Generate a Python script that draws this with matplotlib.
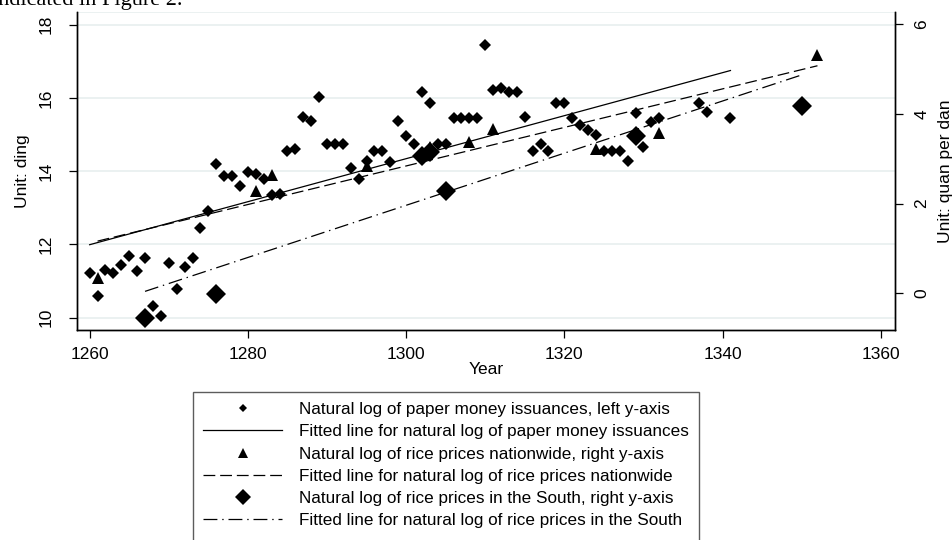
import matplotlib
matplotlib.use("Agg")
import matplotlib.pyplot as plt
from matplotlib.lines import Line2D
import numpy as np

plt.rcParams['font.family'] = ['Liberation Sans', 'DejaVu Sans']
plt.rcParams['lines.scale_dashes'] = False

# paper money issuances (natural log, left axis)
money_years = [1260, 1261, 1262, 1263, 1264, 1265, 1266, 1267, 1268, 1269,
               1270, 1271, 1272, 1273, 1274, 1275, 1276, 1277, 1278, 1279,
               1280, 1281, 1282, 1283, 1284, 1285, 1286, 1287, 1288, 1289,
               1290, 1291, 1292, 1293, 1294, 1295, 1296, 1297, 1298, 1299,
               1300, 1301, 1302, 1303, 1304, 1305, 1306, 1307, 1308, 1309,
               1310, 1311, 1312, 1313, 1314, 1315, 1316, 1317, 1318, 1319,
               1320, 1321, 1322, 1323, 1324, 1325, 1326, 1327, 1328, 1329,
               1330, 1331, 1332, 1337, 1338, 1341]
money_vals = [11.23, 10.59, 11.30, 11.23, 11.43, 11.67, 11.26, 11.64, 10.32, 10.05,
              11.50, 10.79, 11.39, 11.64, 12.44, 12.92, 14.20, 13.86, 13.86, 13.60,
              13.97, 13.93, 13.79, 13.35, 13.38, 14.54, 14.60, 15.49, 15.38, 16.03,
              14.75, 14.75, 14.75, 14.10, 13.79, 14.27, 14.54, 14.54, 14.24, 15.36,
              14.95, 14.75, 16.17, 15.86, 14.75, 14.75, 15.45, 15.45, 15.45, 15.45,
              17.45, 16.22, 16.27, 16.16, 16.16, 15.49, 14.56, 14.75, 14.56, 15.86,
              15.86, 15.46, 15.26, 15.12, 14.98, 14.56, 14.56, 14.56, 14.29, 15.60,
              14.66, 15.34, 15.45, 15.86, 15.62, 15.45]

# rice prices nationwide (natural log, right axis)
nation_years = [1261, 1281, 1283, 1295, 1303, 1308, 1311, 1324, 1332, 1352]
nation_vals = [0.33, 2.29, 2.64, 2.84, 3.27, 3.38, 3.67, 3.21, 3.58, 5.31]

# rice prices in the South (natural log, right axis)
south_years = [1267, 1276, 1302, 1303, 1305, 1329, 1350]
south_vals = [-0.56, -0.02, 3.05, 3.15, 2.29, 3.50, 4.17]

fig = plt.figure(figsize=(9.52, 5.4), dpi=100)
ax1 = fig.add_axes([77 / 952, 1 - 330 / 540, (895 - 77) / 952, (330 - 12) / 540])
ax2 = ax1.twinx()

# fitted lines (OLS on each series)
def fit(xs, ys):
    b, a = np.polyfit(xs, ys, 1)
    xx = np.array([min(xs), max(xs)])
    return xx, a + b * xx

fx, fy = fit(money_years, money_vals)
ax1.plot(fx, fy, color='black', lw=0.9)
nx, ny = fit(nation_years, nation_vals)
ax2.plot(nx, ny, color='black', lw=0.9, dashes=(8.5, 3.5))
sx, sy = fit(south_years, south_vals)
ax2.plot(sx, sy, color='black', lw=0.9, dashes=(10, 3.5, 1, 3.5))

ax1.plot(money_years, money_vals, 'D', color='black', ms=5.8, mew=0)
ax2.plot(nation_years, nation_vals, '^', color='black', ms=8.5, mew=0)
ax2.plot(south_years, south_vals, 'D', color='black', ms=10, mew=0)

ax1.set_xlim(1258.4, 1361.8)
ax1.set_ylim(9.66, 18.35)
ax2.set_ylim(-0.82, 6.27)
ax1.set_xticks([1260, 1280, 1300, 1320, 1340, 1360])
ax1.set_yticks([10, 12, 14, 16, 18])
ax2.set_yticks([0, 2, 4, 6])

for y in [10, 12, 14, 16, 18]:
    ax1.axhline(y, color='#e9f0f0', lw=1.3, zorder=0)
ax1.axhline(18.35, color='#e9f0f0', lw=1.3, zorder=0)

ax1.spines['top'].set_visible(False)
ax2.spines['top'].set_visible(False)
for ax in (ax1, ax2):
    for s in ax.spines.values():
        s.set_linewidth(1.0)
ax1.tick_params(axis='x', length=6, width=0.9, labelsize=12.5, pad=6)
ax1.tick_params(axis='y', length=6, width=0.9, labelsize=12.5, pad=11)
ax2.tick_params(axis='y', length=6, width=0.9, labelsize=12.5, pad=8)
for lab in ax1.get_yticklabels() + ax2.get_yticklabels():
    lab.set_rotation(90)
    lab.set_va('center')

ax1.set_xlabel('Year', fontsize=12.5, labelpad=0)
ax1.set_ylabel('Unit: ding', fontsize=12.5, labelpad=6)
ax2.set_ylabel('Unit: quan per dan', fontsize=12.5, rotation=90, labelpad=6)

handles = [
    Line2D([], [], ls='none', marker='D', color='black', ms=4.5, mew=0),
    Line2D([], [], color='black', lw=0.9),
    Line2D([], [], ls='none', marker='^', color='black', ms=7.5, mew=0),
    Line2D([], [], color='black', lw=0.9, dashes=(8.5, 3.5)),
    Line2D([], [], ls='none', marker='D', color='black', ms=8, mew=0),
    Line2D([], [], color='black', lw=0.9, dashes=(10, 3.5, 1, 3.5)),
    Line2D([], [], ls='none'),
]
labels = [
    'Natural log of paper money issuances, left y-axis',
    'Fitted line for natural log of paper money issuances',
    'Natural log of rice prices nationwide, right y-axis',
    'Fitted line for natural log of rice prices nationwide',
    'Natural log of rice prices in the South, right y-axis',
    'Fitted line for natural log of rice prices in the South',
    ' ',
]
leg = fig.legend(handles, labels, loc='upper left',
                 bbox_to_anchor=(193 / 952, 1 - 392 / 540),
                 fontsize=12.3, frameon=True, fancybox=False,
                 handlelength=4.6, handletextpad=1.0, labelspacing=0.42,
                 borderpad=0.6, borderaxespad=0)
leg.get_frame().set_edgecolor('#333333')
leg.get_frame().set_linewidth(1.0)

# cut-off line of text from the page above the figure
fig.text(-8 / 952, 1 - 4.5 / 540, 'indicated in Figure 2.', fontsize=16,
         family='Liberation Serif', va='baseline', ha='left')

fig.savefig('out.png', dpi=100)
